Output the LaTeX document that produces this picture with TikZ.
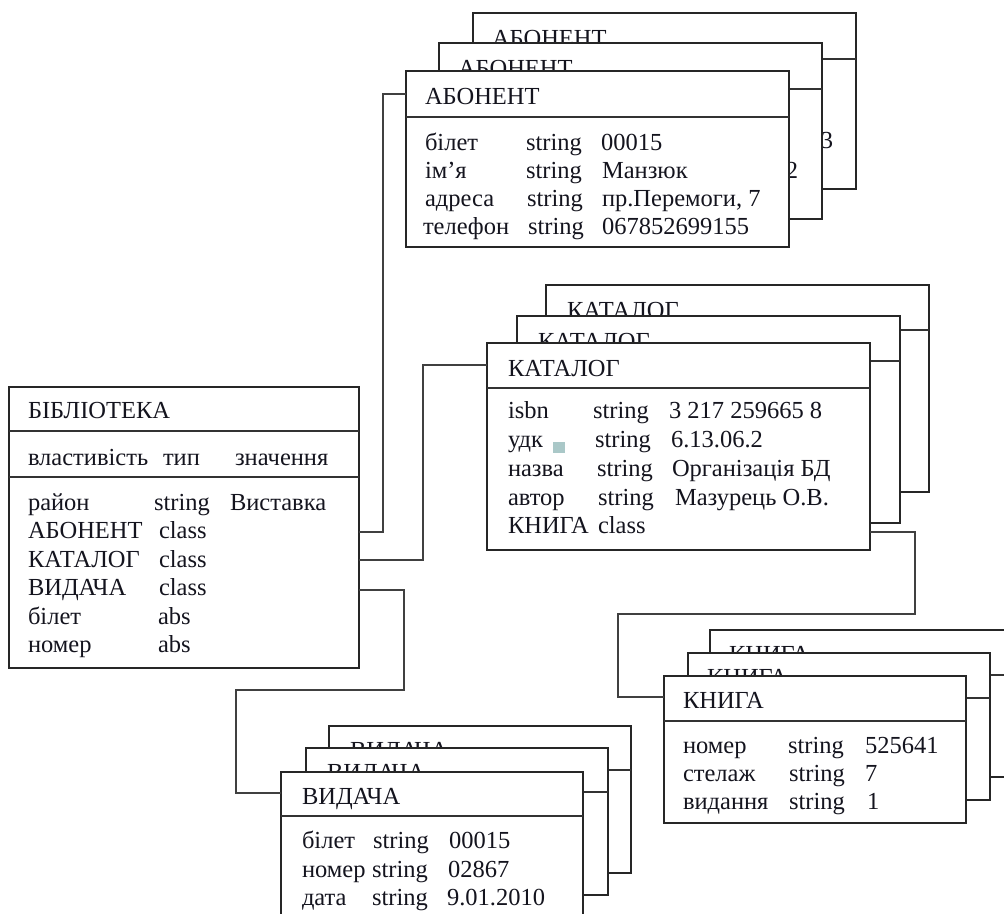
\documentclass[tikz,border=0pt]{standalone}
\usepackage{fontspec}
\setmainfont{Liberation Serif}
\usetikzlibrary{calc}
\definecolor{ink}{RGB}{20,20,30}
\definecolor{marksq}{RGB}{170,200,200}
\tikzset{
  boxst/.style={draw=black!85, line width=1.6pt, fill=white, anchor=north west, inner sep=0pt, outer sep=0pt},
  divst/.style={draw=black!80, line width=1.2pt},
  conn/.style={draw=black!75, line width=1.3pt},
  txt/.style={anchor=base west, inner sep=0pt, outer sep=0pt, text=ink, font=\fontsize{24.5}{28}\selectfont},
}
% text helper: name, box, offset, text
\newcommand\tx[4]{\node[txt] (#1) at ($(#2.north west)+(#3)$) {#4};}
\newcommand\hdiv[2]{\draw[divst] ($(#1.north west)+(0,#2)$) -- ($(#1.north east)+(0,#2)$);}
% a box of a stack that lies behind another: name, x, y, width, height, divider, title offset, title
\newcommand\backbox[8]{%
  \node[boxst, minimum width=#4pt, minimum height=#5pt] (#1) at (#2,#3) {};
  \hdiv{#1}{#6}
  \tx{#1-t}{#1}{#7}{#8}
}

\begin{document}
\begin{tikzpicture}[x=1pt,y=-1pt]
\useasboundingbox (0,0) rectangle (1004,913);
\clip (0,0) rectangle (1004,913);

% БІБЛІОТЕКА
\node[boxst, minimum width=350pt, minimum height=281pt] (lib) at (9,387) {};
\hdiv{lib}{44}
\hdiv{lib}{90}
\tx{lib-t}{lib}{19,31}{БІБЛІОТЕКА}
\tx{lib-h1}{lib}{19,78}{властивість}
\tx{lib-h2}{lib}{154,78}{тип}
\tx{lib-h3}{lib}{226,78}{значення}
\tx{lib-a1}{lib}{19,123}{район}
\tx{lib-b1}{lib}{145,123}{string}
\tx{lib-c1}{lib}{221,123}{Виставка}
\tx{lib-a2}{lib}{19,151.5}{АБОНЕНТ}
\tx{lib-b2}{lib}{150,151.5}{class}
\tx{lib-a3}{lib}{19,180}{КАТАЛОГ}
\tx{lib-b3}{lib}{150,180}{class}
\tx{lib-a4}{lib}{19,208.5}{ВИДАЧА}
\tx{lib-b4}{lib}{150,208.5}{class}
\tx{lib-a5}{lib}{19,237}{білет}
\tx{lib-b5}{lib}{149,237}{abs}
\tx{lib-a6}{lib}{19,265.5}{номер}
\tx{lib-b6}{lib}{149,265.5}{abs}

% АБОНЕНТ stack
\backbox{abo1}{473}{13}{383}{176}{46}{19,33}{АБОНЕНТ}
\node[txt, anchor=base east] (abo1-c3) at ($(abo1.north west)+(360,135)$) {3};
\backbox{abo2}{439}{43}{383}{176}{46}{19,33}{АБОНЕНТ}
\node[txt, anchor=base east] (abo2-c3) at ($(abo2.north west)+(359,135)$) {2};
\node[boxst, minimum width=383pt, minimum height=176pt] (abo3) at (406,71) {};
\hdiv{abo3}{46}
\tx{abo3-t}{abo3}{19,33}{АБОНЕНТ}
\tx{abo3-a1}{abo3}{19,79}{білет}
\tx{abo3-b1}{abo3}{120,79}{string}
\tx{abo3-c1}{abo3}{195,79}{00015}
\tx{abo3-a2}{abo3}{19,107}{ім’я}
\tx{abo3-b2}{abo3}{120,107}{string}
\tx{abo3-c2}{abo3}{196,107}{Манзюк}
\tx{abo3-a3}{abo3}{19,135}{адреса}
\tx{abo3-b3}{abo3}{121,135}{string}
\tx{abo3-c3}{abo3}{196,135}{пр.Перемоги, 7}
\tx{abo3-a4}{abo3}{17,163}{телефон}
\tx{abo3-b4}{abo3}{122,163}{string}
\tx{abo3-c4}{abo3}{196,163}{067852699155}

% КАТАЛОГ stack
\backbox{kat1}{546}{285}{383}{207}{45}{21,33}{КАТАЛОГ}
\backbox{kat2}{517}{316}{383}{207}{45}{21,33}{КАТАЛОГ}
\node[boxst, minimum width=383pt, minimum height=207pt] (kat3) at (487,343) {};
\hdiv{kat3}{45}
\tx{kat3-t}{kat3}{21,33}{КАТАЛОГ}
\tx{kat3-a1}{kat3}{21,75}{isbn}
\tx{kat3-b1}{kat3}{106,75}{string}
\tx{kat3-c1}{kat3}{182,75}{3 217 259665 8}
\tx{kat3-a2}{kat3}{21,104}{удк}
\tx{kat3-b2}{kat3}{108,104}{string}
\tx{kat3-c2}{kat3}{184,104}{6.13.06.2}
\tx{kat3-a3}{kat3}{21,133}{назва}
\tx{kat3-b3}{kat3}{110,133}{string}
\tx{kat3-c3}{kat3}{185,133}{Організація БД}
\tx{kat3-a4}{kat3}{21,162}{автор}
\tx{kat3-b4}{kat3}{111,162}{string}
\tx{kat3-c4}{kat3}{188,162}{Мазурець О.В.}
\tx{kat3-a5}{kat3}{21,190}{КНИГА}
\tx{kat3-b5}{kat3}{111,190}{class}
\fill[marksq] (553,442) rectangle (565,453);

% КНИГА stack
\backbox{kn1}{710}{630}{302}{147}{45}{19,32}{КНИГА}
\backbox{kn2}{688}{653}{302}{147}{45}{19,32}{КНИГА}
\node[boxst, minimum width=302pt, minimum height=147pt] (kn3) at (664,676) {};
\hdiv{kn3}{45}
\tx{kn3-t}{kn3}{19,32}{КНИГА}
\tx{kn3-a1}{kn3}{19,77}{номер}
\tx{kn3-b1}{kn3}{124,77}{string}
\tx{kn3-c1}{kn3}{201,77}{525641}
\tx{kn3-a2}{kn3}{19,105}{стелаж}
\tx{kn3-b2}{kn3}{125,105}{string}
\tx{kn3-c2}{kn3}{201,105}{7}
\tx{kn3-a3}{kn3}{19,133}{видання}
\tx{kn3-b3}{kn3}{125,133}{string}
\tx{kn3-c3}{kn3}{203,133}{1}

% ВИДАЧА stack
\backbox{vid1}{329}{726}{302}{147}{44}{21,32}{ВИДАЧА}
\backbox{vid2}{306}{748}{302}{147}{44}{21,32}{ВИДАЧА}
\node[boxst, minimum width=302pt, minimum height=147pt] (vid3) at (281,772) {};
\hdiv{vid3}{44}
\tx{vid3-t}{vid3}{21,32}{ВИДАЧА}
\tx{vid3-a1}{vid3}{21,76}{білет}
\tx{vid3-b1}{vid3}{92,76}{string}
\tx{vid3-c1}{vid3}{168,76}{00015}
\tx{vid3-a2}{vid3}{21,105}{номер}
\tx{vid3-b2}{vid3}{91,105}{string}
\tx{vid3-c2}{vid3}{167,105}{02867}
\tx{vid3-a3}{vid3}{21,133}{дата}
\tx{vid3-b3}{vid3}{91,133}{string}
\tx{vid3-c3}{vid3}{166,133}{9.01.2010}

% connectors
\draw[conn] ($(lib.north east)+(0,145)$) -| ($(abo3.north west)+(-23,23)$) -- ($(abo3.north west)+(0,23)$);
\draw[conn] ($(lib.north east)+(0,173)$) -| ($(kat3.north west)+(-64,22)$) -- ($(kat3.north west)+(0,22)$);
\draw[conn] ($(lib.north east)+(0,203)$) -| ($(vid3.north west)+(123,-82)$) -| ($(vid3.north west)+(-45,21)$) -- ($(vid3.north west)+(0,21)$);
\draw[conn] ($(kat3.north east)+(0,189)$) -| ($(kn3.north west)+(251,-62)$) -| ($(kn3.north west)+(-46,21)$) -- ($(kn3.north west)+(0,21)$);
\end{tikzpicture}
\end{document}
